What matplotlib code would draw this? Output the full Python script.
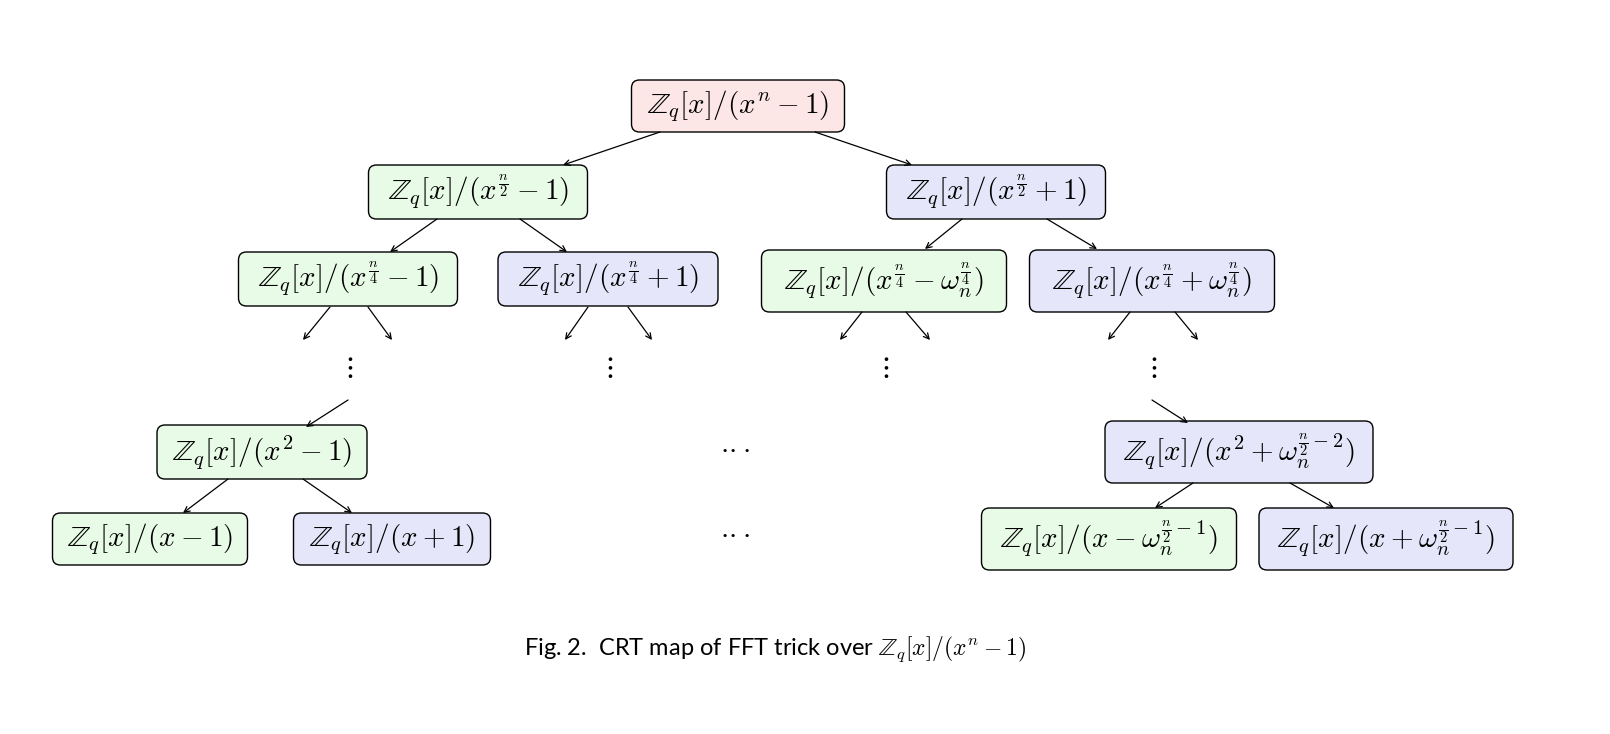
import matplotlib
matplotlib.use("Agg")
import matplotlib.pyplot as plt
from matplotlib.patches import FancyBboxPatch

plt.rcParams["mathtext.fontset"] = "cm"

PINK, GREEN, BLUE = "#fce6e6", "#e8fbe6", "#e6e6fb"

# nodes: label, center x, center y, width, height, colour (pixel coords)
node_labels = [
    r"$\mathbb{Z}_q[x]/(x^n-1)$",
    r"$\mathbb{Z}_q[x]/(x^{\frac{n}{2}}-1)$",
    r"$\mathbb{Z}_q[x]/(x^{\frac{n}{2}}+1)$",
    r"$\mathbb{Z}_q[x]/(x^{\frac{n}{4}}-1)$",
    r"$\mathbb{Z}_q[x]/(x^{\frac{n}{4}}+1)$",
    r"$\mathbb{Z}_q[x]/(x^{\frac{n}{4}}-\omega_n^{\frac{n}{4}})$",
    r"$\mathbb{Z}_q[x]/(x^{\frac{n}{4}}+\omega_n^{\frac{n}{4}})$",
    r"$\mathbb{Z}_q[x]/(x^2-1)$",
    r"$\mathbb{Z}_q[x]/(x^2+\omega_n^{\frac{n}{2}-2})$",
    r"$\mathbb{Z}_q[x]/(x-1)$",
    r"$\mathbb{Z}_q[x]/(x+1)$",
    r"$\mathbb{Z}_q[x]/(x-\omega_n^{\frac{n}{2}-1})$",
    r"$\mathbb{Z}_q[x]/(x+\omega_n^{\frac{n}{2}-1})$",
]
node_x = [738, 478, 996, 348, 608, 884, 1152, 262, 1239, 150, 392, 1109, 1386]
node_y = [106, 192, 192, 279, 279, 281, 281, 452, 452, 539, 539, 539, 539]
node_w = [213, 219, 219, 219, 220, 245, 245, 210, 268, 195, 197, 255, 254]
node_h = [52, 54, 54, 54, 54, 62, 62, 54, 62, 52, 52, 62, 62]
node_c = [PINK, GREEN, BLUE, GREEN, BLUE, GREEN, BLUE, GREEN, BLUE,
          GREEN, BLUE, GREEN, BLUE]

# arrows: (x0, y0, x1, y1)
arrows = [
    (660, 132, 563, 165), (815, 132, 912, 165),
    (437, 219, 390, 252), (520, 219, 567, 252),
    (962, 219, 925, 249), (1047, 219, 1097, 249),
    (330, 307, 303, 340), (368, 307, 392, 340),
    (588, 307, 565, 340), (628, 307, 652, 340),
    (862, 312, 840, 340), (906, 312, 930, 340),
    (1130, 312, 1108, 340), (1175, 312, 1198, 340),
    (348, 400, 306, 427), (1152, 400, 1188, 423),
    (228, 479, 183, 513), (303, 479, 352, 513),
    (1193, 483, 1155, 508), (1290, 483, 1334, 508),
]
vdots_x = [348, 608, 884, 1152]
cdots_y = [452, 537]

fig = plt.figure(figsize=(16.1, 7.34), dpi=100)
ax = fig.add_axes([0, 0, 1, 1])
ax.set_xlim(0, 1610)
ax.set_ylim(734, 0)
ax.axis("off")

for lab, x, y, w, h, c in zip(node_labels, node_x, node_y, node_w, node_h, node_c):
    ax.add_patch(FancyBboxPatch((x - w / 2 + 8, y - h / 2 + 8), w - 16, h - 16,
                                boxstyle="round,pad=8", fc=c, ec="black", lw=1.0))
    ax.text(x, y, lab, ha="center", va="center", fontsize=21)

for x0, y0, x1, y1 in arrows:
    ax.annotate("", xy=(x1, y1), xytext=(x0, y0),
                arrowprops=dict(arrowstyle="->", lw=0.9, color="black",
                                shrinkA=0, shrinkB=0, mutation_scale=10))

for x in vdots_x:
    ax.text(x, 367, r"$\vdots$", ha="center", va="center", fontsize=21)
for y in cdots_y:
    ax.text(735, y - 4, r"$\cdot\!\cdot\!\cdot$", ha="center", va="center", fontsize=21)

ax.text(775, 649, r"Fig. 2.  CRT map of FFT trick over $\mathbb{Z}_q[x]/(x^n-1)$",
        ha="center", va="center", fontsize=17, family="Lato")

fig.savefig("out.png", dpi=100)
